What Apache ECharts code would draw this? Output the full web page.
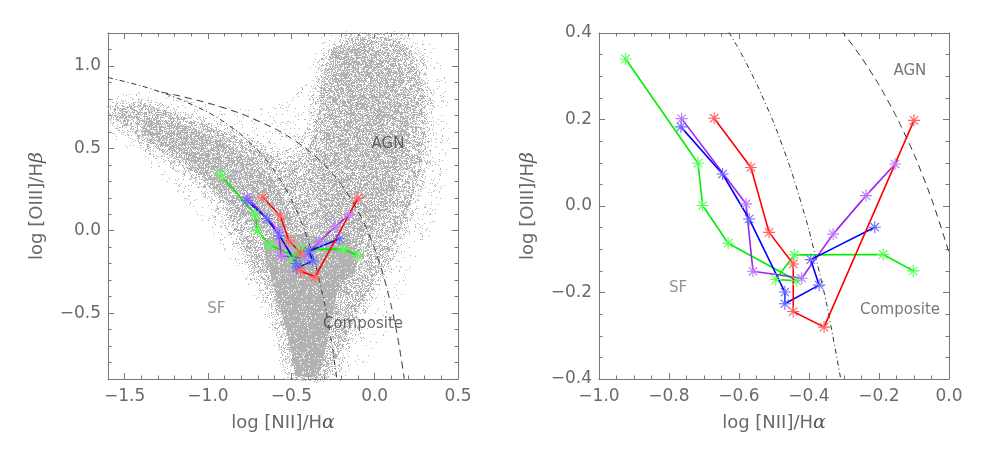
<!DOCTYPE html>
<html>
<head>
<meta charset="utf-8">
<script src="https://cdn.jsdelivr.net/npm/echarts@6/dist/echarts.min.js"></script>
<style>
  html, body { margin: 0; padding: 0; background: #fff; }
  #chart { width: 981px; height: 449px; }
</style>
</head>
<body>
<div id="chart"></div>
<script>
// track points, log [NII]/Ha vs log [OIII]/Hb
var greenTrack = [[-0.924, 0.340], [-0.717, 0.099], [-0.704, 0.001], [-0.631, -0.086], [-0.435, -0.173], [-0.495, -0.170], [-0.442, -0.113], [-0.188, -0.112], [-0.102, -0.150]];
var redTrack = [[-0.671, 0.203], [-0.566, 0.089], [-0.514, -0.061], [-0.445, -0.134], [-0.445, -0.244], [-0.357, -0.280], [-0.100, 0.198]];
var blueTrack = [[-0.766, 0.183], [-0.647, 0.074], [-0.571, -0.030], [-0.469, -0.199], [-0.469, -0.226], [-0.371, -0.183], [-0.395, -0.124], [-0.212, -0.049]];
var purpleTrack = [[-0.764, 0.202], [-0.580, 0.005], [-0.560, -0.151], [-0.421, -0.167], [-0.331, -0.065], [-0.237, 0.024], [-0.154, 0.097]];

// demarcation curves
var kauffmannLine = [[-1.6, 0.930], [-1.4, 0.879], [-1.2, 0.812], [-1.0, 0.719], [-0.9, 0.658], [-0.8, 0.582], [-0.7, 0.487], [-0.65, 0.429], [-0.6, 0.362], [-0.55, 0.283], [-0.5, 0.191], [-0.45, 0.080], [-0.4, -0.056], [-0.35, -0.225], [-0.3, -0.443], [-0.27, -0.606], [-0.25, -0.733], [-0.227, -0.902]];
var kewleyLine = [[-1.28, 0.841], [-1.2, 0.825], [-1.0, 0.775], [-0.8, 0.710], [-0.6, 0.620], [-0.5, 0.561], [-0.4, 0.489], [-0.35, 0.446], [-0.3, 0.398], [-0.25, 0.343], [-0.2, 0.280], [-0.15, 0.206], [-0.1, 0.120], [-0.05, 0.017], [0.0, -0.108], [0.05, -0.262], [0.1, -0.459], [0.125, -0.578], [0.15, -0.716], [0.178, -0.899]];

// outlines of the galaxy cloud (sparse halo, outer fringe, arms, dense bands, core)
var cloudHalo = [[-1.59, 0.82], [-1.3, 0.84], [-1.0, 0.78], [-0.75, 0.75], [-0.5, 0.8], [-0.38, 1.0], [-0.3, 1.19], [0.3, 1.19], [0.42, 0.95], [0.45, 0.5], [0.38, 0.1], [0.2, -0.3], [0.05, -0.65], [-0.15, -0.9], [-0.55, -0.9], [-0.62, -0.62], [-0.75, -0.35], [-0.95, -0.05], [-1.2, 0.25], [-1.45, 0.47], [-1.59, 0.6]];
var cloudFringe = [[-1.59, 0.77], [-1.41, 0.80], [-1.2, 0.745], [-1.0, 0.68], [-0.8, 0.6], [-0.64, 0.52], [-0.5, 0.5], [-0.44, 0.55], [-0.4, 0.7], [-0.37, 0.88], [-0.31, 1.08], [-0.2, 1.19], [0.0, 1.2], [0.2, 1.18], [0.3, 1.05], [0.35, 0.8], [0.35, 0.5], [0.29, 0.25], [0.2, 0.0], [0.1, -0.2], [-0.03, -0.45], [-0.15, -0.72], [-0.24, -0.9], [-0.52, -0.9], [-0.56, -0.76], [-0.61, -0.58], [-0.71, -0.32], [-0.85, -0.08], [-0.97, 0.15], [-1.15, 0.33], [-1.45, 0.53], [-1.59, 0.66]];
var cloudArms = [[-1.57, 0.74], [-1.41, 0.77], [-1.2, 0.71], [-1.0, 0.64], [-0.8, 0.56], [-0.64, 0.47], [-0.52, 0.42], [-0.42, 0.45], [-0.36, 0.62], [-0.33, 0.85], [-0.27, 1.05], [-0.17, 1.16], [0.0, 1.18], [0.16, 1.15], [0.25, 1.03], [0.3, 0.8], [0.3, 0.5], [0.24, 0.25], [0.15, 0.0], [0.05, -0.2], [-0.08, -0.45], [-0.2, -0.72], [-0.3, -0.88], [-0.47, -0.9], [-0.51, -0.76], [-0.56, -0.58], [-0.66, -0.32], [-0.8, -0.08], [-0.92, 0.18], [-1.1, 0.36], [-1.4, 0.56], [-1.57, 0.69]];
var cloudSfBand = [[-1.35, 0.68], [-1.1, 0.62], [-0.85, 0.50], [-0.65, 0.36], [-0.55, 0.2], [-0.5, 0.05], [-0.62, -0.02], [-0.8, 0.1], [-1.0, 0.3], [-1.2, 0.48], [-1.4, 0.6]];
var cloudAgnBand = [[-0.25, 1.1], [-0.05, 1.12], [0.12, 1.05], [0.2, 0.8], [0.18, 0.5], [0.1, 0.2], [-0.02, 0.0], [-0.15, -0.15], [-0.32, -0.1], [-0.32, 0.3], [-0.28, 0.7]];
var cloudCore = [[-0.66, -0.06], [-0.45, -0.02], [-0.25, -0.06], [-0.1, -0.12], [-0.12, -0.25], [-0.21, -0.33], [-0.27, -0.6], [-0.31, -0.78], [-0.35, -0.88], [-0.47, -0.88], [-0.49, -0.78], [-0.53, -0.6], [-0.61, -0.32]];

// tick labels
var leftXLabels = [-1.5, -1.0, -0.5, 0.0, 0.5];
var leftYLabels = [-0.5, 0.0, 0.5, 1.0];
var rightXLabels = [-1.0, -0.8, -0.6, -0.4, -0.2, 0.0];
var rightYLabels = [-0.4, -0.2, 0.0, 0.2, 0.4];

var tickColor = '#777';
var labelColor = '#6a6a6a';
var fontName = 'DejaVu Sans';
var star = 'path://M0,-10L0,10M-10,0L10,0M-7,-7L7,7M-7,7L7,-7';

// speckled texture so the cloud looks like a mass of single points
function hash(x, y) {
    var h = Math.imul(x, 0x27d4eb2d) ^ Math.imul(y + 7919, 0x165667b1);
    h ^= h >>> 16;
    h = Math.imul(h, 0x85ebca6b);
    h ^= h >>> 13;
    h = Math.imul(h, 0xc2b2ae35);
    h ^= h >>> 16;
    return (h >>> 0) / 4294967296;
}
function speckle(density) {
    var c = document.createElement('canvas');
    c.width = 256; c.height = 256;
    var ctx = c.getContext('2d');
    ctx.fillStyle = '#b2b2b2';
    for (var y = 0; y < 256; y++) {
        for (var x = 0; x < 256; x++) {
            if (hash(x, y) < density) ctx.fillRect(x, y, 1, 1);
        }
    }
    return { image: c, repeat: 'repeat' };
}

function fmt(v) {
    return (v < 0 ? '\u2212' : '') + Math.abs(v).toFixed(1);
}

// minor ticks on one side
function minorAxis(grid, pos, min, max, step) {
    return {
        type: 'value', gridIndex: grid, position: pos,
        min: min, max: max, interval: step,
        axisLine: { show: true, onZero: false, lineStyle: { color: tickColor, width: 1 } },
        axisTick: { show: true, inside: true, length: 3.5, lineStyle: { color: tickColor } },
        splitLine: { show: false },
        axisLabel: { show: false }
    };
}

// major ticks (and labels / title if given) on one side
function majorAxis(type, grid, pos, min, max, ticks, title, gap) {
    var ax = {
        type: 'value', gridIndex: grid, position: pos,
        min: min, max: max,
        axisLine: { show: false, onZero: false },
        axisTick: { show: true, inside: true, length: 6, customValues: ticks, lineStyle: { color: tickColor } },
        splitLine: { show: false },
        axisLabel: { show: false }
    };
    if (title) {
        ax.axisLabel = {
            show: true, customValues: ticks, color: labelColor, fontFamily: fontName, fontSize: 17,
            margin: type === 'x' ? 9 : 7,
            formatter: fmt
        };
        ax.name = title;
        ax.nameLocation = 'middle';
        ax.nameGap = gap;
        ax.nameTextStyle = {
            color: labelColor, fontFamily: fontName, fontSize: 18,
            rich: { g: { fontStyle: 'italic', fontFamily: 'DejaVu Serif', fontSize: 19, color: '#555' } }
        };
    }
    return ax;
}

function cloud(pts, density) {
    return {
        type: 'custom', xAxisIndex: 0, yAxisIndex: 0, silent: true, z: 1,
        data: [[0, 0]],
        renderItem: function (params, api) {
            return {
                type: 'polygon',
                shape: { points: pts.map(function (p) { return api.coord(p); }), smooth: 0.25 },
                style: { fill: speckle(density) }
            };
        }
    };
}

function track(data, lineColor, starColor, xi, yi) {
    return {
        type: 'line', xAxisIndex: xi, yAxisIndex: yi, data: data, z: 5,
        lineStyle: { color: lineColor, width: 1.6 },
        symbol: star, symbolSize: 12,
        itemStyle: { color: 'none', borderColor: starColor, borderWidth: 1.1 },
        animation: false
    };
}

function curve(data, dash, xi, yi) {
    return {
        type: 'line', xAxisIndex: xi, yAxisIndex: yi, data: data, z: 4,
        symbol: 'none', smooth: 0.2,
        lineStyle: { color: '#333', width: 1, type: dash },
        animation: false
    };
}

function regionText(txt, x, y, color, xi, yi) {
    return {
        type: 'scatter', xAxisIndex: xi, yAxisIndex: yi, symbolSize: 0, z: 6,
        data: [[x, y]], silent: true,
        label: { show: true, position: 'inside', formatter: txt, color: color, fontFamily: fontName, fontSize: 15 }
    };
}

var xName = 'log [NII]/H{g|α}';
var yName = 'log [OIII]/H{g|β}';

var chart = echarts.init(document.getElementById('chart'));
chart.setOption({
    backgroundColor: '#fff',
    animation: false,
    grid: [
        { left: 108, top: 33, width: 350, height: 346 },
        { left: 599, top: 33, width: 350, height: 346 }
    ],
    xAxis: [
        minorAxis(0, 'bottom', -1.6, 0.5, 0.1),
        minorAxis(0, 'top', -1.6, 0.5, 0.1),
        majorAxis('x', 0, 'bottom', -1.6, 0.5, leftXLabels, xName, 35),
        majorAxis('x', 0, 'top', -1.6, 0.5, leftXLabels),
        minorAxis(1, 'bottom', -1.0, 0.0, 0.05),
        minorAxis(1, 'top', -1.0, 0.0, 0.05),
        majorAxis('x', 1, 'bottom', -1.0, 0.0, rightXLabels, xName, 35),
        majorAxis('x', 1, 'top', -1.0, 0.0, rightXLabels)
    ],
    yAxis: [
        minorAxis(0, 'left', -0.9, 1.2, 0.1),
        minorAxis(0, 'right', -0.9, 1.2, 0.1),
        majorAxis('y', 0, 'left', -0.9, 1.2, leftYLabels, yName, 61),
        majorAxis('y', 0, 'right', -0.9, 1.2, leftYLabels),
        minorAxis(1, 'left', -0.4, 0.4, 0.05),
        minorAxis(1, 'right', -0.4, 0.4, 0.05),
        majorAxis('y', 1, 'left', -0.4, 0.4, rightYLabels, yName, 61),
        majorAxis('y', 1, 'right', -0.4, 0.4, rightYLabels)
    ],
    series: [
        cloud(cloudHalo, 0.04),
        cloud(cloudFringe, 0.2),
        cloud(cloudArms, 0.5),
        cloud(cloudSfBand, 0.72),
        cloud(cloudAgnBand, 0.66),
        cloud(cloudCore, 0.93),
        curve(kauffmannLine, [5, 3, 1, 3], 0, 0),
        curve(kewleyLine, [7, 5], 0, 0),
        curve(kauffmannLine, [5, 3, 1, 3], 4, 4),
        curve(kewleyLine, [7, 5], 4, 4),
        track(greenTrack, '#00ee00', '#55ff55', 0, 0),
        track(purpleTrack, '#a020f0', '#c078ff', 0, 0),
        track(blueTrack, '#0000ff', '#6a6aff', 0, 0),
        track(redTrack, '#ff0000', '#ff6060', 0, 0),
        track(greenTrack, '#00ee00', '#55ff55', 4, 4),
        track(purpleTrack, '#a020f0', '#c078ff', 4, 4),
        track(blueTrack, '#0000ff', '#6a6aff', 4, 4),
        track(redTrack, '#ff0000', '#ff6060', 4, 4),
        regionText('SF', -0.95, -0.474, '#777', 0, 0),
        regionText('Composite', -0.07, -0.569, '#444', 0, 0),
        regionText('AGN', 0.08, 0.526, '#444', 0, 0),
        regionText('SF', -0.774, -0.19, '#777', 4, 4),
        regionText('Composite', -0.14, -0.24, '#555', 4, 4),
        regionText('AGN', -0.112, 0.311, '#555', 4, 4)
    ]
});
</script>
</body>
</html>
